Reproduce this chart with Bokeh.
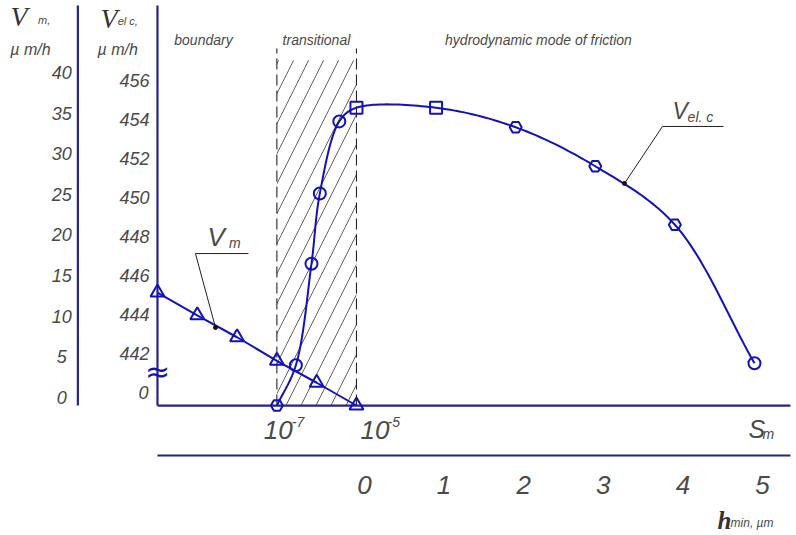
import numpy as np
from bokeh.plotting import figure
from bokeh.models import Range1d
from bokeh.core.properties import value
from bokeh.embed import file_html
from bokeh.resources import INLINE

# ---------------- data ----------------
# wear rate V_m (um/h) vs. roughness parameter S_m (log scale)
sm_vm = [1e-10, 1e-9, 1e-8, 1e-7, 1e-6, 1e-5]
vm = [13.9, 11.1, 8.4, 5.5, 2.8, 0.0]
# V_el.c (um/h) in the transitional region vs. S_m (0 = origin of the broken axis)
sm_vel = [1e-7, 3e-7, 7.4e-7, 1.2e-6, 3.7e-6, 1e-5]
vel_trans = [0.0, 441.4, 446.6, 450.2, 453.9, 454.6]
# V_el.c in the hydrodynamic region vs. h_min (um)
hmin = [1, 2, 3, 4, 5]
vel_hydro = [454.6, 453.6, 451.6, 448.6, 441.5]

vm_ticks = [0, 5, 10, 15, 20, 25, 30, 35, 40]
velc_ticks = [442, 444, 446, 448, 450, 452, 454, 456]
sm_ticks = [1e-7, 1e-5]
sm_tick_exps = ["-7", "-5"]
hmin_ticks = [0, 1, 2, 3, 4, 5]
region_names = ["boundary", "transitional", "hydrodynamic mode of friction"]

# ---------------- layout ----------------
W, H = 796, 535
X0, X1 = -4.472, 5.528
Y0, Y1 = 432.667, 460.10
VM0, VM1 = -16.0, 49.846
BASE = 439.33          # V_el.c level of the S_m axis (broken axis origin)
HLINE = 436.77         # level of the h_min axis line
TOP = 459.85           # top end of the vertical axes
XR = 5.452             # right end of horizontal axes
SM_REF = 1e-5          # S_m at h_min = 0
DEC_PER_H = 2.0        # decades of S_m per unit of h_min

def u_sm(s):
    return (np.log10(np.asarray(s, dtype=float)) - np.log10(SM_REF)) / DEC_PER_H

X_LEFT = float(u_sm(1e-10))
X_VM = X_LEFT - 1.0

AXC = "#23238a"
LC = "#1212bb"
TC = "#4a4a4a"
FONT = "Liberation Sans"


def label(x, y, txt, size, align="left", font=FONT, style="italic", color=TC, **kw):
    p.text(x, y, text=txt, text_color=color, text_font=value(font),
           text_font_style=style, text_font_size=size, text_align=align,
           text_baseline="middle", **kw)


p = figure(width=W, height=H, x_range=Range1d(X0, X1), y_range=Range1d(Y0, Y1),
           output_backend="svg", toolbar_location=None, min_border=0,
           x_axis_location=None, y_axis_location=None)
p.extra_y_ranges = {"vm": Range1d(VM0, VM1)}
p.grid.visible = False
p.outline_line_color = None
p.background_fill_color = "white"

# transitional region (hatched)
p.quad(left=[float(u_sm(sm_ticks[0]))], right=[float(u_sm(sm_ticks[1]))],
       bottom=[BASE], top=[457.03], fill_color=None, line_color=None,
       hatch_pattern="/", hatch_scale=30, hatch_color="#3a3a3a", hatch_weight=0.8)
for s in sm_ticks:
    p.line([float(u_sm(s))] * 2, [BASE, 457.64], line_color="#222222",
           line_width=1.1, line_dash="11 5")

# axes lines
p.line([X_VM, X_VM], [BASE, TOP], line_color=AXC, line_width=2.2)
p.line([X_LEFT, X_LEFT], [BASE, TOP], line_color=AXC, line_width=2.2)
p.line([X_LEFT, XR], [BASE, BASE], line_color=AXC, line_width=2.2)
p.line([X_LEFT, XR], [HLINE, HLINE], line_color=AXC, line_width=2.2)

# break mark on V_el.c axis
label([X_LEFT], [441.08], ["≈"], "30px", align="center", font="DejaVu Sans",
      style="normal", color=LC)

# tick labels
label([X_VM] * len(vm_ticks), vm_ticks, [str(t) for t in vm_ticks], "18px",
      align="center", y_range_name="vm", x_offset=-16, y_offset=-8)
label([X_LEFT] * len(velc_ticks), velc_ticks, [str(t) for t in velc_ticks], "18px",
      align="center", x_offset=-23)
label([X_LEFT], [BASE], ["0"], "18px", align="center", x_offset=-14, y_offset=-13)
xs_sm = list(u_sm(sm_ticks))
label(xs_sm, [BASE] * len(sm_ticks), ["10"] * len(sm_ticks), "26px",
      x_offset=[-13, 4], y_offset=24)
label(xs_sm, [BASE] * len(sm_ticks), sm_tick_exps, "14px",
      x_offset=[15, 31], y_offset=16)
label(hmin_ticks, [HLINE] * len(hmin_ticks), [str(t) for t in hmin_ticks], "26px",
      align="center", x_offset=8, y_offset=30)

# axis titles
label([-4.347], [459.28], ["V"], "28px", font="Liberation Serif", color="#333333")
label([-4.0], [459.10], ["m,"], "11px")
label([-4.095], [457.6], ["µ m/h"], "16px", align="center")
label([-3.216], [459.20], ["V"], "28px", font="Liberation Serif", color="#333333")
label([-3.0], [459.05], ["el c,"], "11px")
label([-3.0], [457.6], ["µ m/h"], "16px", align="center")

# S_m and h_min labels
label([4.925], [438.15], ["S"], "25px")
label([5.10], [437.85], ["m"], "14px")
label([4.535], [433.44], ["h"], "25px", font="Liberation Serif", style="bold italic",
      color="#333333")
label([4.70], [433.31], ["min, µm"], "12px")

# region names
label([-1.922, -0.503, 2.286], [458.1] * 3, region_names, "14px", align="center")

# ---------------- V_m series ----------------
xv = list(u_sm(sm_vm))
p.line(xv, vm, y_range_name="vm", line_color=LC, line_width=2)
p.scatter(xv, vm, y_range_name="vm", marker="triangle", size=14,
          fill_color=None, line_color=LC, line_width=2)

# ---------------- V_el.c series ----------------
xt = np.asarray(u_sm(sm_vel))
vt = np.where(np.asarray(vel_trans) < 100, BASE, np.asarray(vel_trans))
xe = np.concatenate([xt, np.asarray(hmin, dtype=float)])
ve = np.concatenate([vt, np.asarray(vel_hydro, dtype=float)])

sx = W / (X1 - X0)
sy = H / (Y1 - Y0)

def catmull_rom(x, y, n=24):
    P = np.column_stack([x * sx, y * sy])
    P = np.vstack([2 * P[0] - P[1], P, 2 * P[-1] - P[-2]])
    out = []
    for i in range(1, len(P) - 2):
        p0, p1, p2, p3 = P[i - 1], P[i], P[i + 1], P[i + 2]
        t0 = 0.0
        t1 = t0 + np.linalg.norm(p1 - p0) ** 0.5
        t2 = t1 + np.linalg.norm(p2 - p1) ** 0.5
        t3 = t2 + np.linalg.norm(p3 - p2) ** 0.5
        t = np.linspace(t1, t2, n)[:, None]
        a1 = (t1 - t) / (t1 - t0) * p0 + (t - t0) / (t1 - t0) * p1
        a2 = (t2 - t) / (t2 - t1) * p1 + (t - t1) / (t2 - t1) * p2
        a3 = (t3 - t) / (t3 - t2) * p2 + (t - t2) / (t3 - t2) * p3
        b1 = (t2 - t) / (t2 - t0) * a1 + (t - t0) / (t2 - t0) * a2
        b2 = (t3 - t) / (t3 - t1) * a2 + (t - t1) / (t3 - t1) * a3
        c = (t2 - t) / (t2 - t1) * b1 + (t - t1) / (t2 - t1) * b2
        out.append(c)
    C = np.vstack(out)
    return C[:, 0] / sx, C[:, 1] / sy

cx, cy = catmull_rom(xe, ve)
p.line(cx, cy, line_color=LC, line_width=2)
markers = ["hex", "circle", "circle", "circle", "circle", "square",
           "square", "hex", "hex", "hex", "circle"]
p.scatter(list(xe), list(ve), marker=markers, size=12, fill_color=None,
          line_color=LC, line_width=2)

# ---------------- leader annotations ----------------
# V_el.c
p.line([3.367, 3.844, 4.611], [450.72, 453.64, 453.64], line_color="#222222", line_width=1)
p.scatter([3.367], [450.72], size=4, color="#111111")
label([3.97], [454.41], ["V"], "23px")
label([4.16], [454.12], ["el. c"], "14px")
# V_m
p.line([-1.771, -2.023, -1.357], [9.6, 18.7, 18.7], y_range_name="vm",
       line_color="#222222", line_width=1)
p.scatter([-1.771], [9.6], y_range_name="vm", size=4, color="#111111")
label([-1.872], [20.68], ["V"], "26px", y_range_name="vm")
label([-1.60], [20.0], ["m"], "14px", y_range_name="vm")

open("out.html", "w").write(file_html(p, INLINE))
